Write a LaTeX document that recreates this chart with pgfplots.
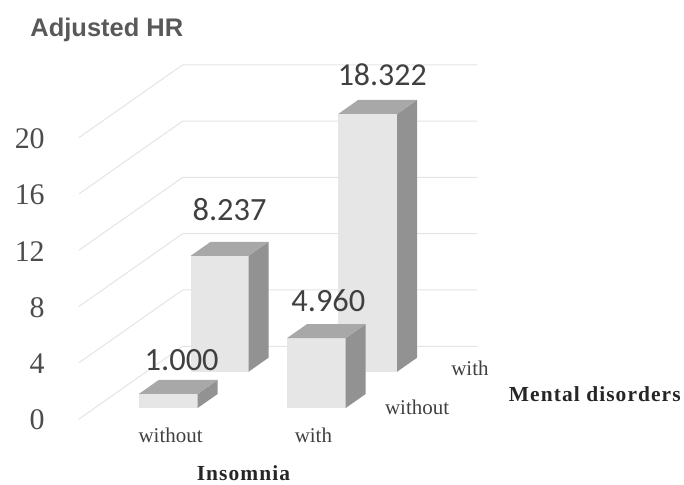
\documentclass[border=0pt]{standalone}
\usepackage{fontspec}
\setmainfont{Liberation Serif}
\newfontfamily\labelfont{Carlito}
\newfontfamily\titlefont{Liberation Sans}
\usepackage{pgfplots}
\pgfplotsset{compat=1.18}
\definecolor{barfront}{HTML}{E6E6E6}
\definecolor{bartop}{HTML}{A8A8A8}
\definecolor{barside}{HTML}{929292}
\definecolor{gridgrey}{HTML}{E4E4E4}
\definecolor{valuegrey}{HTML}{404040}
\definecolor{titlegrey}{HTML}{595959}

% One cuboid: x range #1..#2, depth range #3..#4, height #5
\newcommand{\cuboid}[5]{%
  \addplot3[draw=none, fill=barfront, mark=none, forget plot] coordinates {(#1,#3,0) (#2,#3,0) (#2,#3,#5) (#1,#3,#5)} --cycle;
  \addplot3[draw=none, fill=barside, mark=none, forget plot] coordinates {(#2,#3,0) (#2,#4,0) (#2,#4,#5) (#2,#3,#5)} --cycle;
  \addplot3[draw=none, fill=bartop, mark=none, forget plot] coordinates {(#1,#3,#5) (#2,#3,#5) (#2,#4,#5) (#1,#4,#5)} --cycle;
}
% One grid level running along the side wall and the back wall
\newcommand{\gridlevel}[1]{%
  \addplot3[draw=gridgrey, line width=1pt, mark=none, forget plot] coordinates {(0,0,#1) (0,2,#1) (1.967,2,#1)};
}

\begin{document}
\begin{tikzpicture}
\begin{axis}[
  x={(150pt,0pt)}, y={(52pt,36.5pt)}, z={(0pt,14.1pt)},
  xmin=0, xmax=2, ymin=0, ymax=2, zmin=0, zmax=20,
  clip=false,
  axis line style={draw=none},
  tick style={draw=none},
  /pgf/number format/assume math mode=true,
  ztick={0,4,8,12,16,20},
  zticklabel pos=left,
  every z tick label/.append style={font=\fontsize{30}{30}\selectfont, text=black!70, anchor=east, inner sep=0pt},
  z tick label style={xshift=-34pt, yshift=-1pt},
  xtick={0.613,1.567},
  xticklabels={without,with},
  x tick label style={font=\fontsize{21}{21}\selectfont, text=black!75, anchor=center, yshift=-16pt},
  ytick=\empty,
]
\gridlevel{0}
\gridlevel{4}
\gridlevel{8}
\gridlevel{12}
\gridlevel{16}
\gridlevel{20}

% back row: with mental disorders
\cuboid{0.296}{0.683}{1.3}{1.685}{8.237}
\cuboid{1.282}{1.675}{1.3}{1.685}{18.322}
% front row: without mental disorders
\cuboid{0.295}{0.688}{0.305}{0.69}{1.000}
\cuboid{1.284}{1.677}{0.305}{0.69}{4.960}

\coordinate (base) at (axis cs:0,0,0);

\node[font=\labelfont\fontsize{32.5}{33}\selectfont, text=valuegrey] at (axis cs:0.687,0,4.18) {1.000};
\node[font=\labelfont\fontsize{32.5}{33}\selectfont, text=valuegrey] at (axis cs:1.007,0,14.86) {8.237};
\node[font=\labelfont\fontsize{32.5}{33}\selectfont, text=valuegrey] at (axis cs:1.667,0,8.44) {4.960};
\node[font=\labelfont\fontsize{32}{33}\selectfont, text=valuegrey] at (axis cs:2.027,0,24.5) {18.322};

% depth-axis category labels
\node[font=\fontsize{21}{21}\selectfont, text=black!75] at (axis cs:2.26,0,0.85) {without};
\node[font=\fontsize{21}{21}\selectfont, text=black!75] at (axis cs:2.613,0,3.62) {with};

\node[font=\titlefont\bfseries\fontsize{25.5}{26}\selectfont, text=titlegrey] at (axis cs:0.187,0,27.65) {Adjusted HR};
\node[font=\addfontfeature{LetterSpace=5}\bfseries\fontsize{21.5}{22}\selectfont, text=black!85] at (axis cs:1.1,0,-3.86) {Insomnia};
\node[font=\bfseries\fontsize{21.5}{22}\selectfont\addfontfeature{LetterSpace=5}, text=black!85] at (axis cs:3.447,0,1.77) {Mental disorders};
\end{axis}
\path[use as bounding box] (base) ++(-79pt,-62pt) rectangle ++(684pt,482pt);
\end{tikzpicture}
\end{document}
